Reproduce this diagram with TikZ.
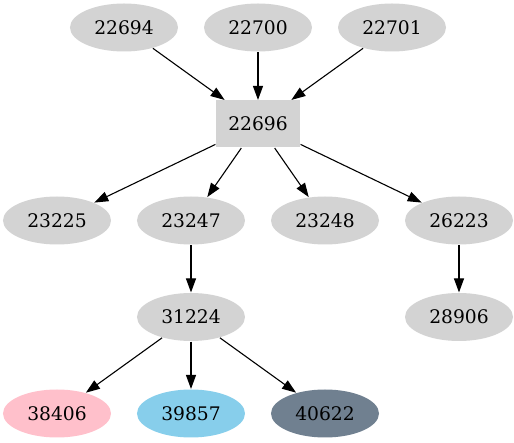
\documentclass[tikz,border=0pt]{standalone}
\usepackage{fontspec}
\setmainfont{DejaVu Serif}
\usepackage{tikz}
\usetikzlibrary{arrows.meta,positioning,shapes}
\definecolor{lgray}{HTML}{D3D3D3}
\definecolor{lpink}{HTML}{FFC0CB}
\definecolor{lsky}{HTML}{87CEEB}
\definecolor{lslate}{HTML}{708090}
\tikzset{
  every vertex/.style={
    inner sep=0pt,
    font=\fontsize{18.7}{22}\selectfont
  },
  vertex/.style={
    every vertex,
    shape=ellipse,
    fill=lgray,
    minimum width=108pt,
    minimum height=48pt
  },
  box vertex/.style={
    every vertex,
    shape=rectangle,
    fill=lgray,
    minimum width=84pt,
    minimum height=47pt
  }
}
\begin{document}
\begin{tikzpicture} [->, >={Triangle[length=14pt,width=10pt]}, on grid,
  node distance=96.5pt and 134pt, line width=1.1pt]
 \useasboundingbox (-258pt,124pt) rectangle (256pt,-319pt);
 \node[box vertex] (n22696) {22696};
 \node[vertex] (n22700) [above=of n22696] {22700};
 \node[vertex] (n22694) [left=of n22700] {22694};
 \node[vertex] (n22701) [right=of n22700] {22701};
 \node[vertex] (n23247) [below left=96.5pt and 67pt of n22696] {23247};
 \node[vertex] (n23225) [left=of n23247] {23225};
 \node[vertex] (n23248) [right=of n23247] {23248};
 \node[vertex] (n26223) [right=of n23248] {26223};
 \node[vertex] (n31224) [below=of n23247] {31224};
 \node[vertex] (n28906) [below=of n26223] {28906};
 \node[vertex,fill=lsky] (n39857) [below=of n31224] {39857};
 \node[vertex,fill=lpink] (n38406) [left=of n39857] {38406};
 \node[vertex,fill=lslate] (n40622) [right=of n39857] {40622};
 \path[->]
  (n22694) edge (n22696)
  (n22700) edge (n22696)
  (n22701) edge (n22696)
  (n22696) edge (n23225)
  (n22696) edge (n23247)
  (n22696) edge (n23248)
  (n22696) edge (n26223)
  (n23247) edge (n31224)
  (n26223) edge (n28906)
  (n31224) edge (n38406)
  (n31224) edge (n39857)
  (n31224) edge (n40622) ;
\end{tikzpicture}
\end{document}
